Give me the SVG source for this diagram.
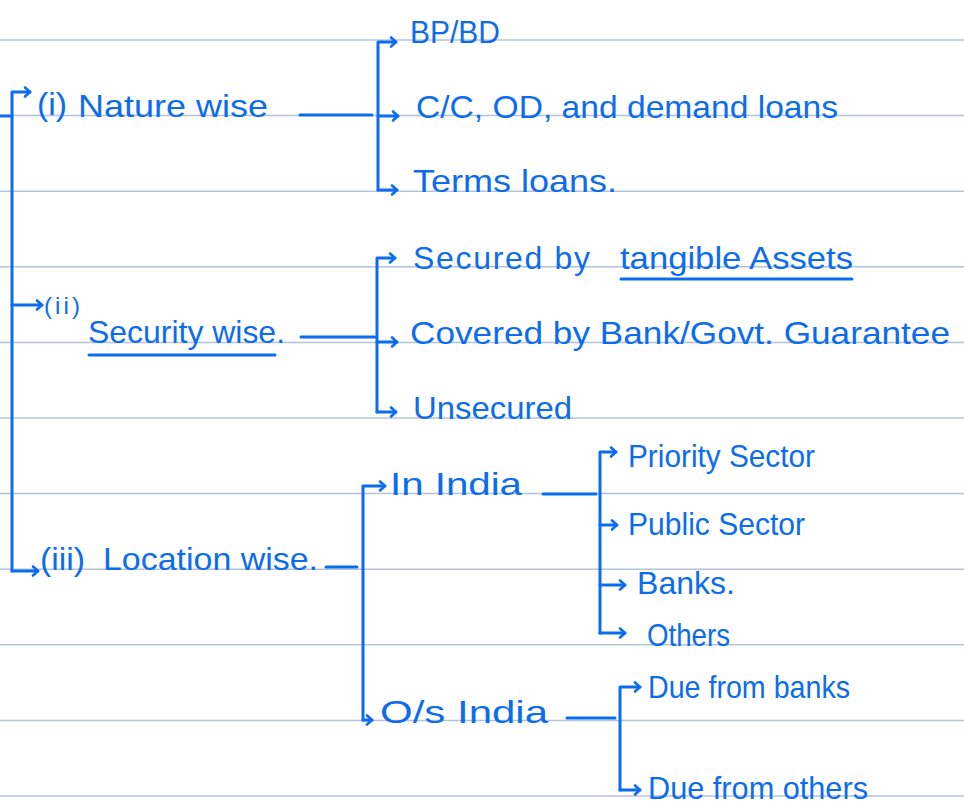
<svg xmlns="http://www.w3.org/2000/svg" width="964" height="811" viewBox="0 0 964 811">
<defs>
<style>
.rule{stroke:#b3c3dc;stroke-width:1.5}
.ink{fill:none;stroke:#0b6cf0;stroke-width:3;stroke-linecap:round;stroke-linejoin:round}
.t{font-family:"Liberation Sans","Open Sans",sans-serif;font-size:32px;fill:#0b6cf0}
.s{font-size:24px}
</style>
<marker id="ah" markerUnits="userSpaceOnUse" markerWidth="14" markerHeight="14" viewBox="-8 -7 10 14" refX="0" refY="0" orient="auto">
<path d="M-5,-4.5 L0,0 L-5,4.5" fill="none" stroke="#0b6cf0" stroke-width="2.6" stroke-linecap="round" stroke-linejoin="round"/>
</marker>
</defs>
<rect width="964" height="811" fill="#ffffff"/>
<g id="rules">
<line class="rule" x1="0" y1="40" x2="964" y2="40"/>
<line class="rule" x1="0" y1="115.6" x2="964" y2="115.6"/>
<line class="rule" x1="0" y1="191.2" x2="964" y2="191.2"/>
<line class="rule" x1="0" y1="266.8" x2="964" y2="266.8"/>
<line class="rule" x1="0" y1="342.4" x2="964" y2="342.4"/>
<line class="rule" x1="0" y1="418" x2="964" y2="418"/>
<line class="rule" x1="0" y1="493.6" x2="964" y2="493.6"/>
<line class="rule" x1="0" y1="569.2" x2="964" y2="569.2"/>
<line class="rule" x1="0" y1="644.8" x2="964" y2="644.8"/>
<line class="rule" x1="0" y1="720.4" x2="964" y2="720.4"/>
<line class="rule" x1="0" y1="796" x2="964" y2="796"/>
</g>
<g id="connectors">
<path class="ink" d="M0,116 H12"/>
<path class="ink" d="M12,571 V92 H30" marker-end="url(#ah)"/>
<path class="ink" d="M12,305 H42" marker-end="url(#ah)"/>
<path class="ink" d="M12,571 H38" marker-end="url(#ah)"/>
<path class="ink" d="M300,115 H372"/>
<path class="ink" d="M378,190 V42 H396" marker-end="url(#ah)"/>
<path class="ink" d="M378,116 H398" marker-end="url(#ah)"/>
<path class="ink" d="M378,190 H397" marker-end="url(#ah)"/>
<path class="ink" d="M301,337 H375"/>
<path class="ink" d="M377,412 V258 H395" marker-end="url(#ah)"/>
<path class="ink" d="M377,342 H397" marker-end="url(#ah)"/>
<path class="ink" d="M377,412 H396" marker-end="url(#ah)"/>
<path class="ink" d="M326,567 H357"/>
<path class="ink" d="M363,720 V486 H385" marker-end="url(#ah)"/>
<path class="ink" d="M363,720 H372" marker-end="url(#ah)"/>
<path class="ink" d="M543,494 H596"/>
<path class="ink" d="M600,633 V452 H616" marker-end="url(#ah)"/>
<path class="ink" d="M600,525 H617" marker-end="url(#ah)"/>
<path class="ink" d="M600,585 H625" marker-end="url(#ah)"/>
<path class="ink" d="M600,633 H625" marker-end="url(#ah)"/>
<path class="ink" d="M567,718 H615"/>
<path class="ink" d="M620,790 V687 H640" marker-end="url(#ah)"/>
<path class="ink" d="M620,790 H640" marker-end="url(#ah)"/>
</g>
<g id="nature">
<text class="t" x="37" y="115" textLength="30" lengthAdjust="spacingAndGlyphs">(i)</text>
<text class="t" x="78" y="117" textLength="190" lengthAdjust="spacingAndGlyphs">Nature wise</text>
</g>
<g id="bpbd"><text class="t" x="410" y="43" textLength="90" lengthAdjust="spacingAndGlyphs">BP/BD</text></g>
<g id="cc"><text class="t" x="416" y="118" textLength="422" lengthAdjust="spacingAndGlyphs">C/C, OD, and demand loans</text></g>
<g id="terms"><text class="t" x="413" y="192" textLength="204" lengthAdjust="spacingAndGlyphs">Terms loans.</text></g>
<g id="security">
<text class="t s" x="44" y="314" textLength="36" lengthAdjust="spacing">(ii)</text>
<text class="t" x="88" y="343" textLength="197" lengthAdjust="spacingAndGlyphs">Security wise.</text>
<path class="ink" d="M89,355 H275"/>
</g>
<g id="secured">
<text class="t" x="413" y="269" textLength="177" lengthAdjust="spacing">Secured by</text>
<text class="t" x="620" y="269" textLength="233" lengthAdjust="spacingAndGlyphs">tangible Assets</text>
<path class="ink" d="M621,279 H852"/>
</g>
<g id="covered"><text class="t" x="410" y="344" textLength="540" lengthAdjust="spacingAndGlyphs">Covered by Bank/Govt. Guarantee</text></g>
<g id="unsecured"><text class="t" x="413" y="419" textLength="159" lengthAdjust="spacingAndGlyphs">Unsecured</text></g>
<g id="location">
<text class="t" x="40" y="570" textLength="45" lengthAdjust="spacingAndGlyphs">(iii)</text>
<text class="t" x="103" y="570" textLength="215" lengthAdjust="spacingAndGlyphs">Location wise.</text>
</g>
<g id="inindia"><text class="t" x="390" y="495" textLength="132" lengthAdjust="spacingAndGlyphs">In India</text></g>
<g id="priority"><text class="t" x="628" y="467" textLength="187" lengthAdjust="spacingAndGlyphs">Priority Sector</text></g>
<g id="public"><text class="t" x="628" y="535" textLength="177" lengthAdjust="spacingAndGlyphs">Public Sector</text></g>
<g id="banks"><text class="t" x="637" y="594" textLength="98" lengthAdjust="spacingAndGlyphs">Banks.</text></g>
<g id="others"><text class="t" x="647" y="646" textLength="83" lengthAdjust="spacingAndGlyphs">Others</text></g>
<g id="osindia"><text class="t" x="380" y="723" textLength="168" lengthAdjust="spacingAndGlyphs">O/s India</text></g>
<g id="duebanks"><text class="t" x="648" y="698" textLength="202" lengthAdjust="spacingAndGlyphs">Due from banks</text></g>
<g id="dueothers"><text class="t" x="648" y="799" textLength="220" lengthAdjust="spacingAndGlyphs">Due from others</text></g>
</svg>
